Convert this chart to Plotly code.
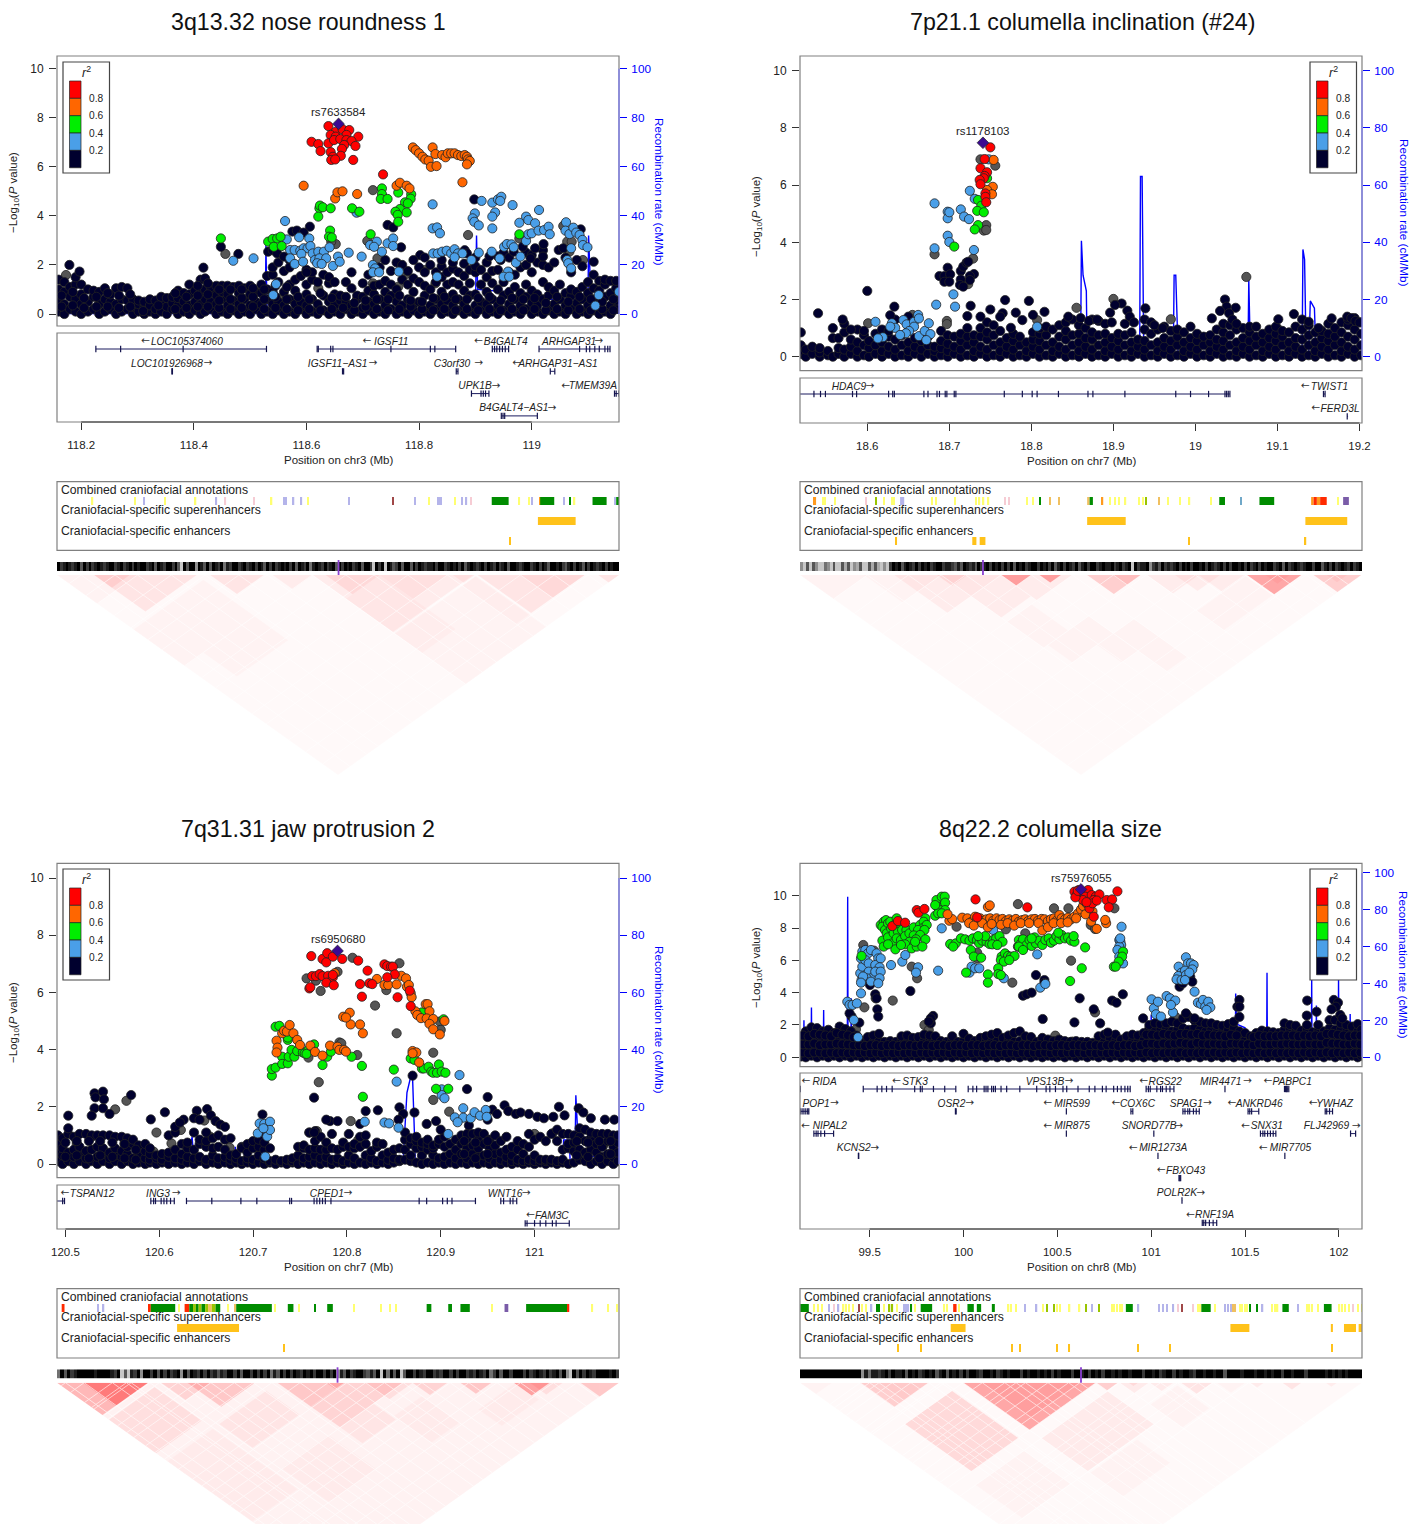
import plotly.graph_objects as go

W, H = 1412, 1524

# ---------------------------------------------------------------- titles / labels
TITLES = ["3q13.32 nose roundness 1", "7p21.1 columella inclination (#24)",
          "7q31.31 jaw protrusion 2", "8q22.2 columella size"]
CHROMS = ["chr3", "chr7", "chr7", "chr8"]
LEAD_NAMES = ["rs7633584", "rs1178103", "rs6950680", "rs75976055"]
LEAD_P1 = (118.657, 7.75)
LEAD_P2 = (18.741, 7.48)
LEAD_P3 = (120.79, 7.45)
LEAD_P4 = (100.626, 10.39)
XTICKS_P1 = [118.2, 118.4, 118.6, 118.8, 119]
XTICKS_P2 = [18.6, 18.7, 18.8, 18.9, 19, 19.1, 19.2]
XTICKS_P3 = [120.5, 120.6, 120.7, 120.8, 120.9, 121]
XTICKS_P4 = [99.5, 100, 100.5, 101, 101.5, 102]
LOGP_TICKS = [0, 2, 4, 6, 8, 10]
RATE_TICKS = [0, 20, 40, 60, 80, 100]
R2_LABELS = ["0.8", "0.6", "0.4", "0.2"]

# ---------------------------------------------------------------- panel 1 points
P1_RED = [(118.639,7.66),(118.652,7.43),(118.664,7.53),(118.676,7.5),(118.643,7.3),(118.652,7.23),(118.671,7.3),(118.692,7.23),
 (118.609,7.02),(118.621,6.93),(118.625,6.64),(118.639,6.96),(118.649,7.09),(118.66,7.13),(118.671,7.09),(118.68,7.05),(118.687,6.85),
 (118.667,6.89),(118.663,6.73),(118.643,6.6),(118.661,6.45),(118.647,6.41),(118.644,6.28),(118.651,6.3),(118.683,6.28),(118.736,5.69)]
P1_ORANGE = [(118.789,6.79),(118.794,6.68),(118.8,6.55),(118.806,6.41),(118.811,6.3),(118.817,6.25),(118.821,6.0),(118.831,6.03),(118.824,6.79),
 (118.829,6.52),(118.841,6.48),(118.847,6.39),(118.851,6.55),(118.857,6.55),(118.863,6.55),(118.869,6.48),(118.875,6.44),(118.881,6.48),
 (118.885,6.41),(118.887,6.3),(118.89,6.24),(118.885,6.1),(118.877,5.37),(118.595,5.23),(118.651,4.71),(118.655,4.96),(118.664,5.0),
 (118.69,4.89),(118.76,5.23),(118.766,5.35),(118.778,5.23),(118.783,5.12)]
P1_GREEN = [(118.448,3.08),(118.532,2.95),(118.54,3.06),(118.548,3.08),(118.554,3.15),(118.542,2.74),(118.556,2.77),(118.623,4.31),(118.621,3.97),
 (118.624,4.42),(118.629,4.35),(118.643,4.31),(118.642,3.4),(118.64,3.15),(118.645,3.12),(118.681,4.31),(118.694,4.17),(118.714,3.25),(118.734,5.12),
 (118.734,4.89),(118.732,4.69),(118.744,4.69),(118.763,4.95),(118.786,4.88),(118.785,4.7),(118.775,4.55),(118.78,4.51),(118.766,4.28),
 (118.758,4.17),(118.778,4.14),(118.762,4.04),(118.763,3.76),(118.978,3.25)]
P1_BLUE = [(118.562,3.79),(118.47,2.17),(118.506,2.27),(118.565,3.04),(118.587,3.13),(118.605,3.08),(118.571,2.61),(118.579,2.61),(118.589,2.58),
 (118.595,2.68),(118.602,2.68),(118.607,2.77),(118.591,2.45),(118.611,2.47),(118.621,2.54),(118.631,2.54),(118.641,2.72),(118.571,2.27),
 (118.579,2.04),(118.594,2.13),(118.615,2.2),(118.623,2.27),(118.635,2.27),(118.619,2.07),(118.627,2.04),(118.647,1.96),(118.656,2.34),
 (118.659,2.13),(118.675,2.5),(118.698,2.34),(118.713,2.81),(118.725,2.95),(118.72,2.74),(118.734,2.54),(118.744,2.88),(118.754,3.08),
 (118.754,2.77),(118.718,2.0),(118.722,1.86),(118.718,1.7),(118.729,1.7),(118.764,1.73),(118.689,4.13),(118.824,4.47),(118.824,3.49),
 (118.832,3.53),(118.837,3.29),(118.825,2.47),(118.833,2.47),(118.841,2.54),(118.849,2.58),(118.857,2.47),(118.863,2.64),(118.869,2.47),
 (118.877,2.47),(118.863,2.31),(118.893,2.2),(118.832,1.52),(118.911,4.61),(118.899,4.1),(118.895,3.9),(118.898,3.76),(118.906,3.61),
 (118.93,4.54),(118.94,4.67),(118.946,4.78),(118.944,4.61),(118.966,4.44),(118.935,4.14),(118.93,3.97),(118.93,3.49),(118.906,2.5),
 (118.929,2.54),(118.943,2.27),(118.951,2.74),(118.956,2.85),(118.964,2.84),(118.968,2.72),(118.978,3.72),(118.99,3.97),(118.994,3.83),
 (119.006,3.7),(119.013,4.24),(118.99,2.98),(118.994,3.25),(119.0,3.29),(119.012,3.4),(119.022,3.42),(119.03,3.56),(119.032,3.25),
 (119.061,3.74),(119.06,3.4),(119.067,3.26),(119.074,3.52),(119.079,3.32),(119.085,3.22),(119.09,3.02),(119.091,2.81),(119.099,2.72),
 (119.07,2.68),(119.063,2.2),(119.065,2.07),(119.07,1.86),(118.958,1.73),(118.95,1.52),(118.96,1.52),(118.972,2.09),(118.98,2.34),
 (119.119,0.77),(119.113,0.34),(119.155,0.91),(118.541,0.77),(118.546,1.22)]
P1_GRAY = [(118.456,2.45),(118.652,2.85),(118.644,2.95),(118.718,5.05),(118.708,2.98),(118.887,3.22),(119.056,3.59),(119.063,2.95),(119.071,2.95),
 (119.067,2.54),(118.978,3.08),(119.091,2.2),(118.726,2.27),(118.173,1.59),(118.81,1.79),(118.776,1.62),(118.718,1.25),(118.763,1.11),
 (118.621,1.05),(118.829,1.25),(118.556,0.64)]
P1_NAVY = [(118.448,2.74),(118.479,2.45),(118.417,1.89),(118.179,2.0),(118.197,1.73),(118.606,3.56),(118.575,3.36),(118.583,3.4),(118.595,3.32),
 (118.532,2.54),(118.54,2.6),(118.548,2.47),(118.56,2.34),(118.744,3.63),(118.754,3.53),(118.768,2.72),(118.898,4.67),(119.087,3.45),(119.11,2.13),
 (118.802,2.4),(118.881,2.6),(118.885,2.47),(118.968,2.54),(119.021,2.85),(119.006,2.68),(118.984,2.74),(119.048,2.61),(119.056,2.68),(119.02,2.34),
 (118.998,2.27),(118.79,2.2),(118.81,2.3),(118.84,2.2),(118.86,2.1),(118.9,2.3),(118.925,2.35),(118.945,2.2),(118.57,1.9),(118.6,1.7)]
# carpet: (position, [-log10 P values at that position])
P1_CARPET = [(118.16,(.1,.5,1.0,1.4)),(118.17,(0,.4,.9,1.3)),(118.18,(.2,.7,1.1)),(118.19,(.1,.6,1.2,1.5)),(118.2,(0,.4,.8,1.2)),(118.212,(.1,.5,1.0)),
 (118.222,(.2,.7,.95)),(118.232,(0,.4,.9)),(118.242,(.1,.6,1.05)),(118.252,(.2,.5,.8)),(118.262,(0,.4,1.05)),(118.272,(.1,.6,1.1)),
 (118.282,(.2,.55,1.05)),(118.292,(0,.3,.6)),(118.302,(.1,.4,.55)),(118.312,(0,.25,.5)),(118.322,(.1,.35,.6)),(118.332,(0,.2,.55)),(118.342,(.1,.4,.7)),
 (118.352,(0,.3,.65)),(118.362,(.2,.45,.7)),(118.372,(0,.35,.65,.95)),(118.382,(.1,.5,.85)),(118.392,(0,.35,.8,1.2)),(118.402,(.15,.5,.95)),
 (118.412,(0,.4,.85,1.4)),(118.42,(.1,.6,1.0,1.45)),(118.43,(.2,.5,.95,1.1)),(118.44,(0,.4,.75,1.15)),(118.45,(.1,.6,.9,1.15)),(118.46,(0,.35,.8,1.15)),
 (118.47,(.15,.55,1.1)),(118.48,(0,.4,.85,1.15)),(118.49,(.1,.6,1.05)),(118.5,(0,.35,.8,1.15)),(118.51,(.2,.5,.9)),(118.52,(0,.4,.85,1.2)),
 (118.53,(.1,.6,1.0,1.55)),(118.54,(0,.4,.9,1.6,1.9)),(118.55,(.15,.5,1.3,2.1)),(118.56,(0,.35,.9,1.75)),(118.57,(.1,.6,1.2,2.2)),(118.58,(0,.4,.95,1.4)),
 (118.59,(.2,.5,1.55)),(118.6,(0,.35,.8,1.2,1.8)),(118.61,(.1,.6,1.4,1.7)),(118.62,(0,.4,1.3,2.15)),(118.63,(.15,.75,1.6)),(118.64,(0,.5,1.25,1.5)),
 (118.65,(.1,.35,.8,1.3)),(118.66,(0,.55,.75)),(118.67,(.2,.45,.7,1.3)),(118.68,(0,.35,1.05,1.7)),(118.69,(.1,.6,.75)),(118.7,(0,.25,.7,1.25)),
 (118.71,(.15,.5,.95,1.6)),(118.72,(0,.4,.8,1.15)),(118.73,(.1,.6,1.2,1.9)),(118.74,(0,.35,.9,1.35,2.2)),(118.75,(.2,.75,1.2,1.75)),(118.76,(0,.5,1.0,2.1)),
 (118.77,(.1,.35,1.4,2.0)),(118.78,(0,.6,1.2,1.75)),(118.79,(.15,.4,.9,1.45)),(118.8,(0,.5,1.3,1.9)),(118.81,(.1,.75,1.15,1.7)),(118.82,(0,.35,1.0,2.0)),
 (118.83,(.2,.6,1.3,1.7)),(118.84,(0,.4,.9,1.5,1.95)),(118.85,(.1,.55,1.2,1.7)),(118.86,(0,.35,.8,1.3,1.85)),(118.87,(.15,.6,1.2,1.7)),(118.88,(0,.4,.95,1.55,2.05)),
 (118.89,(.1,.75,1.25,1.8)),(118.9,(0,.35,.8,1.7,1.95)),(118.91,(.2,.5,1.2,1.8)),(118.92,(0,.4,.9,1.5,2.1)),(118.93,(.1,.6,1.25,1.75)),(118.94,(0,.35,1.0,1.8,2.35)),
 (118.95,(.15,.75,1.3,2.5)),(118.96,(0,.4,.9,1.7,2.3)),(118.97,(.1,.6,1.1,1.6)),(118.98,(0,.35,.85,1.9)),(118.99,(.2,.7,1.2,2.0,2.5)),(119.0,(0,.45,.95,1.7,2.4)),
 (119.01,(.1,.35,.8,2.1)),(119.02,(0,.6,1.3,2.0,2.6)),(119.03,(.15,.75,1.1,1.9)),(119.04,(0,.4,.95,2.1)),(119.05,(.1,.6,1.2)),(119.06,(0,.35,.85,2.3)),
 (119.07,(.2,.75,1.0,1.7)),(119.08,(0,.45,.9,2.2)),(119.09,(.1,.6,1.1,1.95)),(119.1,(0,.35,.85,1.3)),(119.11,(.15,.6,1.05,1.6)),(119.12,(0,.4,.95,1.35)),
 (119.13,(.1,.7,1.2,1.4)),(119.14,(0,.35,.85,1.35)),(119.15,(.2,.55,1.05,1.35))]
P1_CARPET_EXTRA = [(118.165,(.3,.75)),(118.185,(.35,.9)),(118.205,(.25,.65)),(118.227,(.3,.7)),(118.247,(.3,.85)),(118.267,(.25,.75)),(118.287,(.3,.8)),(118.31,(.12,)),(118.337,(.35,)),(118.367,(.2,.85)),
 (118.387,(.25,.7)),(118.407,(.3,.75,1.15)),(118.425,(.3,.8,1.25)),(118.445,(.25,.55,1.0)),(118.465,(.2,.6,1.0)),(118.485,(.25,.65,1.0)),(118.505,(.3,.7,1.05)),(118.525,(.2,.6,1.0)),(118.545,(.25,.7,1.15)),(118.565,(.2,.6,1.1)),
 (118.585,(.15,.7)),(118.605,(.2,.6)),(118.625,(.15,.85)),(118.645,(.2,.65)),(118.665,(.25,)),(118.685,(.15,.45)),(118.705,(.3,.55)),(118.725,(.2,.6)),(118.745,(.15,.6)),(118.765,(.2,.75)),(118.785,(.3,.55)),(118.805,(.2,.5)),
 (118.825,(.15,.65)),(118.845,(.2,.7)),(118.865,(.15,.6)),(118.885,(.2,.6)),(118.905,(.15,.65)),(118.925,(.2,.7)),(118.945,(.15,.55)),(118.965,(.2,.65)),(118.985,(.15,.6)),(119.005,(.2,.65)),(119.025,(.15,.45)),(119.045,(.2,.7)),
 (119.065,(.15,.5)),(119.085,(.2,.7)),(119.105,(.15,.6)),(119.125,(.2,.5)),(119.145,(.15,.6))]

# ---------------------------------------------------------------- panel 2 points
P2_RED = [(18.75,7.32),(18.743,6.91),(18.738,6.59),(18.746,6.45),(18.743,6.32),(18.742,6.24),(18.737,6.18),(18.738,6.03),(18.744,5.71),(18.744,5.59),(18.745,5.4)]
P2_ORANGE = [(18.754,6.88),(18.753,5.94),(18.746,5.83),(18.752,5.68)]
P2_GREEN = [(18.746,6.24),(18.735,5.48),(18.739,5.28),(18.734,5.1),(18.742,5.05),(18.735,4.6),(18.731,4.45),(18.706,3.85)]
P2_BLUE = [(18.748,6.9),(18.725,5.8),(18.731,5.52),(18.682,5.36),(18.698,5.07),(18.698,4.84),(18.7,5.05),(18.714,5.15),(18.718,4.9),(18.724,4.81),
 (18.698,4.23),(18.7,4.01),(18.682,3.79),(18.73,3.73),(18.705,2.18),(18.684,1.82),(18.707,1.75),(18.807,1.05),(18.61,1.22),(18.63,1.17),(18.634,1.01),
 (18.628,1.05),(18.644,1.28),(18.648,1.13),(18.657,1.22),(18.662,1.46),(18.663,1.34),(18.657,1.05),(18.651,.9),(18.647,.82),(18.64,.76),(18.619,.68),
 (18.613,.64),(18.663,.72),(18.67,.9),(18.675,1.17),(18.677,.79),(18.672,.58)]
P2_GRAY = [(18.738,6.9),(18.756,6.68),(18.745,4.6),(18.742,4.41),(18.745,4.43),(18.682,3.58),(18.729,3.43),(19.062,2.79),(18.855,1.71),(18.9,2.02),
 (18.723,2.54),(18.601,1.17),(18.655,1.46),(18.697,1.25),(18.697,1.14),(18.97,1.31),(19.1,.99),(18.807,1.28),(18.874,.52)]
P2_NAVY = [(18.6,2.3),(18.54,1.52),(18.633,1.75),(18.688,2.82),(18.698,3.11),(18.694,2.82),(18.701,2.88),(18.694,2.62),(18.7,2.62),(18.714,3.0),(18.717,3.15),
 (18.721,3.29),(18.723,3.32),(18.73,2.89),(18.725,2.82),(18.714,2.7),(18.713,2.51),(18.717,2.45),(18.725,2.68),(18.726,1.78),(18.75,1.65),(18.768,1.98),
 (18.797,1.95),(18.816,1.57),(18.781,1.54),(18.765,1.52),(18.762,1.4),(18.722,1.42),(18.738,1.4),(18.802,1.46),(18.789,1.28),(18.775,1.01),(18.91,1.86),
 (18.902,1.81),(18.917,1.61),(18.896,1.54),(18.939,1.69),(19.036,2.0),(19.038,1.75),(19.049,1.71),(19.041,1.52),(19.02,1.34),(19.101,1.31),(19.12,1.49),
 (19.138,1.22),(19.166,1.34),(19.185,1.4),(18.57,1.3),(18.58,.95),(18.65,1.4),(18.628,1.45),(18.86,1.35),(18.845,1.4),(18.87,1.25),(18.88,1.3),(18.92,1.4),
 (18.925,1.2),(18.95,1.1),(18.96,1.0),(19.03,1.6),(19.045,1.3),(19.05,1.15),(19.15,1.0),(19.19,1.35),(19.195,1.25),(19.2,1.2)]
P2_CARPET = [(18.519,(.1,.4,.85)),(18.525,(0,.25)),(18.533,(.1,.35)),(18.542,(0,.15,.3)),(18.552,(.05,.2)),(18.558,(0,.65,1.0)),(18.565,(.1,.3,.65)),(18.572,(0,.25,.85,1.15)),
 (18.58,(.1,.35,.6)),(18.588,(0,.2,.5,.95)),(18.596,(.05,.4,.75,.9)),(18.602,(0,.3,.55)),(18.61,(.1,.4,.8)),(18.618,(0,.2,.5,.95)),(18.626,(.1,.35,.7,.9)),(18.634,(0,.25,.6,1.3)),
 (18.642,(.05,.4,.75)),(18.65,(0,.2,.5,.9)),(18.658,(.1,.35,.65)),(18.666,(0,.25,.55)),(18.674,(.1,.4,.7)),(18.682,(0,.2,.35)),(18.69,(.05,.3,.55,.9)),(18.698,(0,.2,.45,.75)),
 (18.706,(.1,.35,.7)),(18.714,(0,.25,.55,.8)),(18.722,(.05,.4,.7,1.0)),(18.73,(0,.2,.5,.75)),(18.738,(.1,.35,.7,1.0)),(18.746,(0,.25,.6,.85,1.2)),(18.754,(.05,.4,.75,1.1)),
 (18.762,(0,.2,.5,.9)),(18.77,(.1,.35,.65)),(18.778,(0,.25,.55,.8)),(18.786,(.05,.4,.7)),(18.794,(0,.2,.5)),(18.802,(.1,.35,.6,.85)),(18.81,(0,.25,.55,.8,1.0)),(18.818,(.05,.4,.75,1.05)),
 (18.826,(0,.2,.5,.95)),(18.834,(.1,.35,.7,1.1)),(18.842,(0,.25,.6,.9,1.2)),(18.85,(.05,.4,.75,1.3)),(18.858,(0,.2,.5,.8,1.1)),(18.866,(.1,.35,.65,1.0)),(18.874,(0,.25,.6,.85,1.3)),
 (18.882,(.05,.4,.75,1.25)),(18.89,(0,.2,.5,.8,1.15)),(18.898,(.1,.35,.65,1.2)),(18.906,(0,.25,.55,.8)),(18.914,(.05,.4,.75,1.15)),(18.922,(0,.2,.5,.85)),(18.93,(.1,.35,.6)),
 (18.938,(0,.25,.55,.95,1.3)),(18.946,(.05,.4,.8,1.2)),(18.954,(0,.2,.5,.95)),(18.962,(.1,.35,.65,1.05)),(18.97,(0,.25,.55,.9)),(18.978,(.05,.4,.7,.95)),(18.986,(0,.2,.5,.85)),
 (18.994,(.1,.35,.65,1.05)),(19.002,(0,.25,.55,.8)),(19.01,(.05,.4,.7)),(19.018,(0,.2,.5,.75)),(19.026,(.1,.35,.6,.95)),(19.034,(0,.25,.55,.85,1.15)),(19.042,(.05,.4,.75,1.1)),
 (19.05,(0,.2,.5,.95)),(19.058,(.1,.35,.65,1.0)),(19.066,(0,.25,.55,.85,1.05)),(19.074,(.05,.4,.7,1.05)),(19.082,(0,.2,.5,.8)),(19.09,(.1,.35,.65,.95)),(19.098,(0,.25,.55,.8,1.05)),
 (19.106,(.05,.4,.7,.9)),(19.114,(0,.2,.5,.85)),(19.122,(.1,.35,.65,1.05)),(19.13,(0,.25,.6,.95,1.3)),(19.138,(.05,.4,.75,1.1)),(19.146,(0,.2,.5,.85)),(19.154,(.1,.35,.65,.9)),
 (19.162,(0,.25,.55,.8,1.15)),(19.17,(.05,.4,.7,1.0)),(19.178,(0,.2,.5,.85,1.2)),(19.186,(.1,.35,.7,1.1,1.3)),(19.194,(0,.25,.6,.95,1.35)),(19.202,(.05,.4,.8,1.2))]
P2_CARPET_EXTRA = []

# ---------------------------------------------------------------- panel 3 points
P3_RED = [(120.762,7.27),(120.774,7.17),(120.778,7.05),(120.779,7.37),(120.785,7.25),(120.795,7.17),(120.812,7.11),(120.822,6.76),(120.84,6.98),(120.843,6.92),(120.847,6.9),(120.849,6.9),
 (120.851,6.63),(120.843,6.53),(120.763,6.57),(120.767,6.57),(120.771,6.64),(120.774,6.57),(120.78,6.58),(120.785,6.53),(120.785,6.61),(120.778,6.34),(120.76,6.14),(120.786,6.25),(120.814,6.29),
 (120.816,5.85),(120.824,6.32),(120.827,6.29),(120.854,5.83),(120.867,6.06),(120.868,5.52),(120.761,6.18)]
P3_ORANGE = [(120.787,6.67),(120.832,6.47),(120.84,6.26),(120.844,6.26),(120.853,6.28),(120.858,6.58),(120.863,6.49),(120.864,6.2),(120.866,6.26),(120.868,5.97),(120.869,5.83),(120.873,5.34),
 (120.875,5.21),(120.879,5.1),(120.884,5.59),(120.886,5.59),(120.888,5.34),(120.885,5.09),(120.892,5.07),(120.888,4.9),(120.892,4.71),(120.899,4.53),(120.904,5.0),(120.796,5.15),(120.803,5.29),
 (120.804,4.88),(120.814,4.88),(120.817,4.57),(120.799,5.12),(120.725,4.31),(120.726,4.07),(120.725,3.9),(120.731,4.57),(120.733,4.66),(120.736,4.63),(120.739,4.86),(120.743,4.57),(120.747,4.34),
 (120.75,4.16),(120.761,4.14),(120.766,3.92),(120.774,3.79),(120.782,4.14),(120.79,4.1),(120.792,3.99),(120.797,3.99),(120.799,3.93),(120.87,3.95),(120.874,3.9),(120.877,3.55),(120.87,3.87)]
P3_GREEN = [(120.72,3.09),(120.72,3.32),(120.724,3.37),(120.724,4.8),(120.728,4.83),(120.731,3.75),(120.731,3.5),(120.737,4.34),(120.737,4.42),(120.737,3.52),(120.738,3.75),(120.741,3.99),(120.744,3.75),
 (120.747,3.95),(120.753,3.9),(120.755,3.87),(120.759,3.99),(120.763,4.1),(120.765,4.18),(120.774,3.46),(120.779,3.75),(120.783,3.93),(120.805,3.75),(120.816,3.43),(120.817,2.35),(120.868,3.69),
 (120.872,3.64),(120.88,5.3),(120.88,3.34),(120.882,3.34),(120.887,3.4),(120.89,3.23),(120.892,3.19),(120.896,3.19),(120.898,3.48),(120.901,3.23),(120.905,3.19),(120.903,5.06),(120.895,2.63),(120.908,2.63),
 (120.757,3.85),(120.85,3.3)]
P3_BLUE = [(120.92,3.11),(120.853,2.88),(120.901,2.61),(120.901,2.41),(120.904,2.3),(120.924,1.95),(120.915,1.63),(120.924,1.62),(120.918,1.46),(120.932,1.6),(120.936,1.81),(120.942,1.69),(120.948,1.89),
 (120.949,1.65),(120.908,1.05),(120.819,1.48),(120.84,1.45),(120.845,1.42),(120.855,1.27),(120.707,1.42),(120.712,1.4),(120.718,1.48),(120.705,1.07),(120.715,.96),(120.718,1.19),(120.713,.26),(120.711,1.25)]
P3_GRAY = [(120.757,6.49),(120.767,6.41),(120.772,6.05),(120.79,6.72),(120.806,7.21),(120.856,7.02),(120.842,6.08),(120.83,5.54),(120.853,4.57),(120.899,4.98),(120.9,4.69),(120.792,4.25),(120.794,4.22),
 (120.811,3.81),(120.759,3.72),(120.892,3.89),(120.77,2.86),(120.892,2.24),(120.909,1.83),(120.553,1.91),(120.565,2.21),(120.597,1.1),(120.618,1.3),(120.623,1.19),(120.613,.72),(120.594,.43),(120.648,1.52),
 (120.654,.96),(120.675,.57),(120.804,1.5),(120.812,.84),(120.768,1.15),(120.512,.7),(120.563,.72),(121.0,1.05),(121.019,1.07),(121.073,.63)]
P3_NAVY = [(120.87,3.09),(120.928,2.62),(120.95,2.34),(120.765,2.32),(120.531,2.47),(120.54,2.53),(120.57,2.41),(120.532,2.33),(120.541,2.26),(120.531,1.95),(120.54,1.95),(120.528,1.69),(120.547,1.75),
 (120.503,1.69),(120.591,1.56),(120.606,1.81),(120.64,1.86),(120.651,1.92),(120.637,1.6),(120.643,1.55),(120.655,1.7),(120.66,1.5),(120.665,1.38),(120.67,1.3),(120.626,1.55),(120.622,1.45),(120.71,1.73),
 (120.76,1.1),(120.765,1.1),(120.782,1.5),(120.778,1.55),(120.79,1.5),(120.814,1.4),(120.82,1.85),(120.833,1.88),(120.856,1.98),(120.86,1.75),(120.872,1.8),(120.855,1.55),(120.885,1.4),(120.895,1.5),(120.9,1.2),
 (120.93,1.35),(120.95,1.55),(120.955,1.9),(120.96,1.75),(120.968,2.05),(120.972,1.85),(120.98,1.75),(120.985,1.8),(120.994,1.75),(121.003,1.65),(121.01,1.6),(121.02,1.65),(121.026,2.0),(121.032,1.7),(121.047,1.95),
 (121.052,1.8),(121.06,1.6),(121.075,1.55),(121.085,1.55)]
P3_CARPET = [(120.492,(.1,.4,.7,1.0)),(120.497,(0,.3,.55,.9)),(120.503,(.1,.4,1.05,1.25)),(120.509,(0,.25,.5,.95)),(120.515,(.1,.35,.6,1.05)),(120.522,(0,.2,.45,1.05)),(120.528,(.1,.5,.95,1.0)),
 (120.534,(0,.25,.6,1.0)),(120.54,(.1,.35,.55,1.0)),(120.547,(0,.2,.4,1.0)),(120.553,(.1,.3,.55,.95)),(120.56,(0,.25,.45,.95)),(120.566,(.1,.35,.6,.9)),(120.572,(0,.2,.7,.85)),(120.578,(.05,.35,.65)),
 (120.585,(0,.2,.45,.7)),(120.59,(.05,.15,.35,.55)),(120.597,(0,.2,.3)),(120.603,(.05,.15,.35)),(120.61,(0,.25,.4,1.0)),(120.617,(.05,.2,.5,1.1,1.3)),(120.624,(0,.15,.35,.7)),(120.63,(.05,.25,.55,.75)),
 (120.637,(0,.2,.5,1.1)),(120.643,(.1,.25,.7,.85)),(120.65,(0,.15,.6,.8,1.1)),(120.657,(.05,.3,.55,.9)),(120.663,(0,.2,.6,1.0)),(120.67,(.05,.25,.5,.85)),(120.676,(0,.15,.3,.9)),(120.682,(.05,.2,.35)),
 (120.688,(0,.1,.6,.55)),(120.694,(.05,.2,.4,.7)),(120.7,(0,.15,.55,.8)),(120.706,(.05,.3,.6,.85)),(120.712,(0,.2,.5,.75,1.1)),(120.718,(.05,.1,.55)),(120.724,(0,.15)),(120.73,(.05,.1)),(120.736,(0,.15)),
 (120.742,(.05,.1,.2)),(120.748,(0,.3,.6)),(120.754,(.05,.2,.55,.65)),(120.76,(0,.25,.5,1.1)),(120.766,(.05,.3,.55,.8,1.15)),(120.772,(0,.2,.5,.95)),(120.778,(.05,.25,.5,.75)),(120.784,(0,.15,.55,1.05)),
 (120.79,(.05,.2,.5)),(120.796,(0,.1,.6,.75)),(120.802,(.05,.3,.6,1.05)),(120.808,(0,.2,.55,.7)),(120.814,(.05,.6,.95)),(120.82,(0,.3,.7,1.0)),(120.826,(.05,.2,.45)),(120.832,(0,.1,.6,.75)),(120.838,(.05,.3,.7)),
 (120.844,(0,.15,.4)),(120.85,(.05,.2,.5)),(120.856,(.1,.15,.55)),(120.862,(.15,.5,.85,1.1)),(120.868,(.1,.3,.7,.9)),(120.874,(.05,.55,.8,.95)),(120.88,(0,.3,.6,.75)),(120.886,(.05,.5,.7,.85)),(120.892,(0,.3,.55,.65)),
 (120.898,(.05,.2,.7,.85)),(120.904,(0,.25,.6,.95)),(120.91,(.05,.35,.7)),(120.916,(0,.2,.5,.85)),(120.922,(.05,.35,.7,1.0)),(120.928,(0,.2,.55,.9,1.05)),(120.934,(.05,.35,.65,1.05)),(120.94,(0,.25,.55,.85,1.1)),
 (120.946,(.05,.3,.7,1.05)),(120.952,(0,.2,.55,.85)),(120.958,(.05,.35,.65,1.0)),(120.964,(0,.15,.4,.8)),(120.97,(.05,.25,.5,.95)),(120.976,(0,.1,.3,.6)),(120.982,(.05,.15,.5,.8)),(120.988,(0,.1,.35,.7)),
 (120.994,(.05,.15,.6,1.05)),(121.0,(0,.1,.3,.85)),(121.006,(.05,.15,.95)),(121.012,(0,.1,.15,.8)),(121.018,(.05,.15,1.05)),(121.024,(0,.1,.8,1.2)),(121.03,(.05,.15,.5,1.05)),(121.036,(0,.55,.7,1.05)),
 (121.042,(.05,.45,.75,1.0)),(121.048,(.15,.5,.95,1.25)),(121.054,(.1,.4,.8,1.2)),(121.06,(0,.5,.9,1.1)),(121.066,(.1,.4,.7,1.05)),(121.072,(0,.25,.6,1.05)),(121.078,(.1,.35,.8,1.05)),(121.084,(0,.25,.6,1.0)),(121.089,(.1,.4,.75,1.0))]
P3_CARPET_EXTRA = [(120.5,(.25,.75)),(120.512,(.3,.8)),(120.525,(.2,.8)),(120.537,(.3,.8)),(120.55,(.25,.75)),(120.563,(.2,.7)),(120.575,(.15,.5)),(120.925,(.35,.8)),(120.937,(.2,.75)),(120.95,(.35,.8)),(121.045,(.3,.8)),(121.057,(.25,.75)),(121.069,(.2,.8)),(121.081,(.35,.8))]

# ---------------------------------------------------------------- panel 4 points
P4_RED = [(99.621,8.12),(99.651,8.43),(99.689,8.33),(99.751,9.11),(99.76,8.95),(99.792,9.18),(100.064,9.77),(100.073,8.66),(100.34,9.28),(100.591,10.25),(100.603,10.04),(100.626,10.19),(100.664,10.35),
 (100.648,9.94),(100.683,10.04),(100.705,9.94),(100.724,10.08),(100.694,9.73),(100.763,9.73),(100.792,9.77),(100.82,10.27),(100.671,9.22),(100.694,8.7),(100.774,9.28),(100.637,9.73),(100.614,10.35),(100.687,9.53),
 (100.596,9.9),(100.609,10.3),(100.655,9.6),(100.71,9.7)]
P4_ORANGE = [(99.993,8.64),(100.021,8.6),(100.043,8.39),(100.062,8.7),(100.073,8.49),(100.089,8.6),(100.107,8.45),(100.123,8.54),(100.142,8.6),(100.158,8.45),(100.176,8.6),(100.192,8.49),(100.208,8.56),(100.226,8.43),
 (100.244,8.54),(100.26,8.45),(100.279,8.56),(100.295,8.39),(100.313,8.49),(100.329,8.54),(100.345,8.43),(100.363,8.54),(100.381,8.56),(100.397,8.45),(100.416,8.56),(100.432,8.54),(100.45,8.43),(100.466,8.54),
 (100.482,8.6),(100.495,8.45),(100.511,8.8),(100.523,8.6),(100.541,8.54),(100.557,8.64),(100.573,8.54),(100.591,8.7),(100.61,8.9),(100.626,9.15),(100.637,9.36),(100.655,9.53),(100.671,9.43),(100.687,9.03),
 (100.03,8.3),(100.055,8.15),(100.1,8.3),(100.13,8.05),(100.15,8.25),(100.2,8.2),(100.235,8.3),(100.27,8.15),(100.305,8.3),(100.35,8.3),(100.4,8.3),(100.42,7.85),(100.45,8.05),(100.48,8.3),(100.52,8.3),(100.555,8.35),
 (100.6,8.6),(100.65,8.85),(100.68,8.4),(100.76,8.3),(100.755,8.5),(100.71,7.95),(99.925,8.45),(99.94,8.55),(99.915,8.85),(100.13,9.3),(100.14,9.4)]
P4_GREEN = [(99.457,6.27),(99.559,8.19),(99.575,8.39),(99.587,8.49),(99.568,8.08),(99.582,7.88),(99.598,8.29),(99.61,8.39),(99.591,7.67),(99.568,7.22),(99.598,7.42),(99.614,7.98),(99.632,8.19),(99.644,8.6),(99.66,8.19),
 (99.628,7.67),(99.651,7.77),(99.673,7.88),(99.696,7.88),(99.621,7.05),(99.644,7.36),(99.667,7.26),(99.689,7.5),(99.712,7.67),(99.735,8.04),(99.769,8.19),(99.797,8.6),(99.788,8.39),(99.781,7.98),(99.758,7.88),(99.735,7.54),
 (99.804,8.19),(99.792,7.88),(99.769,7.57),(99.797,7.3),(99.747,7.3),(99.712,7.15),(99.689,6.99),(99.637,6.68),(99.575,6.85),(99.667,6.95),(99.724,6.74),(99.751,6.85),(99.781,6.85),(99.742,7.15),(99.598,6.99),
 (99.872,9.73),(99.856,9.73),(99.861,9.32),(99.884,9.94),(99.9,9.94),(99.902,9.57),(99.872,9.11),(99.902,9.11),(99.849,8.76),(99.865,8.91),(99.884,8.91),(99.849,9.42),(99.929,7.01),(99.959,7.05),(99.945,6.85),
 (99.986,7.36),(100.009,7.3),(100.032,7.22),(100.05,7.36),(100.071,7.26),(100.084,7.05),(100.1,7.22),(100.123,7.15),(100.139,7.01),(100.158,7.26),(100.174,7.36),(100.192,7.5),(100.208,7.15),(100.153,6.99),(100.116,7.5),(100.18,6.95),
 (100.078,7.5),(100.039,6.64),(100.055,6.23),(100.203,6.23),(100.199,6.02),(100.221,6.43),(100.237,6.27),(100.253,6.23),(100.272,6.27),(100.215,5.92),(100.244,6.02),(100.094,6.16),(100.185,5.51),(100.185,5.15),(100.199,5.09),
 (100.014,5.24),(100.13,5.13),(100.13,4.62),(100.568,4.72),(100.63,5.51),(100.648,6.8),(100.801,5.61),(100.295,7.26),(100.306,7.05),(100.317,7.3),(100.336,6.95),(100.352,7.26),(100.363,6.89),(100.379,7.42),(100.386,7.05),
 (100.404,7.22),(100.42,6.95),(100.436,7.26),(100.454,7.36),(100.466,7.09),(100.482,7.22),(100.495,7.5),(100.511,7.3),(100.523,7.57),(100.541,7.36),(100.557,7.42),(100.573,7.22),(100.591,7.15),(100.587,7.5),(100.505,7.71),
 (100.363,7.36),(100.295,6.85),(100.317,6.64),(100.85,6.54),(100.845,6.23),(100.827,5.92),(100.811,5.61)]
P4_BLUE = [(99.457,4.78),(99.45,5.2),(99.461,5.61),(99.454,6.12),(99.461,6.54),(99.477,6.64),(99.491,6.43),(99.507,6.64),(99.477,6.02),(99.495,5.81),(99.495,5.3),(99.507,4.89),(99.484,4.89),(99.465,5.0),(99.454,4.62),(99.507,4.68),
 (99.537,6.43),(99.546,6.12),(99.53,5.71),(99.559,6.12),(99.553,5.57),(99.53,5.3),(99.559,5.3),(99.553,4.89),(99.546,4.58),(99.454,3.96),(99.381,3.44),(99.393,3.24),(99.409,3.24),(99.432,3.34),(99.416,2.31),(99.438,1.24),
 (99.614,5.71),(99.674,5.92),(99.69,6.33),(99.865,5.36),(99.884,7.98),(99.758,5.57),(99.747,5.24),(100.032,5.24),(100.043,5.61),(100.062,5.51),(100.084,5.51),(100.215,4.89),(100.393,6.37),(100.409,4.31),(100.436,4.54),(100.158,7.88),
 (100.842,8.08),(100.83,7.26),(100.836,7.15),(100.84,6.95),(100.83,6.85),(100.82,6.64),(100.83,6.23),(100.85,5.81),(100.835,7.36),
 (101.002,3.59),(101.014,3.03),(101.036,3.44),(101.025,2.66),(101.052,2.52),(101.082,3.79),(101.1,3.65),(101.116,2.78),(101.128,3.51),(101.105,3.24),(101.185,6.19),(101.146,5.61),(101.196,5.81),(101.212,5.81),(101.226,5.71),(101.219,5.44),
 (101.162,5.24),(101.18,5.36),(101.144,5.03),(101.135,4.82),(101.162,4.78),(101.185,5.09),(101.203,5.24),(101.18,4.78),(101.231,4.06),(101.249,3.38),(101.265,3.3),(101.276,3.55),(101.288,3.13),(101.304,3.44),(101.315,3.09),(101.295,2.93)]
P4_GRAY = [(99.466,6.95),(99.523,6.6),(99.472,3.09),(99.532,3.65),(99.623,3.51),(99.724,5.61),(99.753,4.89),(99.963,8.08),(100.073,6.12),(100.073,6.47),(100.26,4.62),(100.29,9.48),(100.29,6.85),(100.226,7.92),(100.329,7.67),(100.482,9.22),
 (100.573,5.98),(100.559,9.22),(100.701,2.78),(100.804,9.22),(100.678,8.19),(100.701,7.94),(99.792,2.0),(99.815,1.69),(100.112,1.07),(100.489,1.34),(100.58,.97),(99.81,1.18),(99.427,1.73),(101.128,2.52)]
P4_NAVY = [(99.53,3.9),(99.537,3.65),(99.541,2.97),(99.546,2.52),(99.502,4.47),(99.717,4.1),(100.317,3.81),(100.336,3.9),(100.363,4.0),(100.386,5.09),(100.431,4.78),(100.431,4.6),(100.422,2.37),(100.619,3.65),(100.694,2.97),(100.591,2.16),
 (100.728,2.1),(100.769,1.53),(100.792,3.51),(100.815,3.38),(100.849,3.9),(100.957,2.41),(99.826,2.1),(99.838,2.56),(99.826,2.41),(99.815,2.21),(99.445,2.14),(99.404,2.52),(99.393,2.72),(101.151,4.37),(101.169,4.58),(101.208,4.99),(101.219,4.68),
 (101.47,3.55),(101.459,3.13),(101.47,3.13),(101.831,3.51),(101.829,2.58),(101.881,2.82),(101.973,3.55),(101.995,3.38),(101.984,3.13),(101.961,2.97),(102.007,2.62),(102.018,2.41),(101.185,2.72),(101.231,2.41)]
P4_CARPET = [(99.135,(.05,.5,1.1)),(99.16,(0,.55,1.05,1.6)),(99.19,(.1,.6,1.15,1.85)),(99.22,(0,.5,1.2,1.8)),(99.25,(.1,.55,1.1,1.6)),(99.28,(0,.5,1.05,1.7)),(99.31,(.1,.6,1.1,1.5)),(99.34,(0,.55,1.2,1.9)),(99.37,(.1,.5,1.05,1.75)),
 (99.4,(0,.6,1.15,1.6)),(99.43,(.1,.5,1.0,1.35)),(99.46,(0,.55,1.0)),(99.49,(.1,.45,.95,1.25)),(99.52,(0,.5,.95,1.35)),(99.55,(.1,.55,1.0,1.45)),(99.58,(0,.45,.95)),(99.61,(.1,.5,1.0)),(99.64,(0,.55,.95)),(99.67,(.1,.45,1.0,1.3)),
 (99.7,(0,.5,.95,1.35)),(99.73,(.1,.55,1.0,1.2)),(99.76,(0,.45,.95,1.25)),(99.79,(.1,.5,1.0,1.4)),(99.82,(0,.55,1.0,1.35)),(99.85,(.1,.45,.95,1.3)),(99.88,(0,.5,1.0)),(99.91,(.1,.55,.95)),(99.94,(0,.45,1.0,1.3)),(99.97,(.1,.5,.95)),
 (100.0,(0,.55,1.0,1.45)),(100.03,(.1,.45,.95,1.15)),(100.06,(0,.5,1.0)),(100.09,(.1,.55,.95,1.2)),(100.12,(0,.45,1.0,1.3)),(100.15,(.1,.5,.95,1.4)),(100.18,(0,.55,1.0,1.5)),(100.21,(.1,.45,.95,1.2)),(100.24,(0,.5,1.0,1.35)),(100.27,(.1,.55,.95,1.5)),
 (100.3,(0,.45,1.0,1.6)),(100.33,(.1,.5,.95,1.3)),(100.36,(0,.55,1.0,1.25)),(100.39,(.1,.45,.95)),(100.42,(0,.5,1.0,1.2)),(100.45,(.1,.55,.95,1.1)),(100.48,(0,.45,1.0)),(100.51,(.1,.5,.95,1.1)),(100.54,(0,.55,1.0)),(100.57,(.1,.45,.95)),
 (100.6,(0,.5,1.0)),(100.63,(.1,.55,.95)),(100.66,(0,.45,.95)),(100.69,(.1,.5,.9)),(100.72,(0,.55,.95,1.3)),(100.75,(.1,.45,.95,1.4)),(100.78,(0,.5,.95,1.2)),(100.81,(.1,.55,1.0,1.4)),(100.84,(0,.45,.95,1.1)),(100.87,(.1,.5,1.0,1.3)),
 (100.9,(0,.55,1.0,1.4)),(100.93,(.1,.45,.95,1.35)),(100.96,(0,.5,1.05,1.5)),(100.99,(.1,.6,1.2,1.8,2.0)),(101.02,(0,.5,1.1,1.6,2.1)),(101.05,(.1,.55,1.15,1.7,2.05)),(101.08,(0,.6,1.1,1.75,2.1)),(101.11,(.1,.5,1.2,1.6,2.2)),(101.14,(0,.55,1.1,1.7,2.1)),
 (101.17,(.1,.6,1.2,1.8,2.4)),(101.2,(0,.5,1.1,1.7,2.5)),(101.23,(.1,.55,1.15,1.8,2.3)),(101.26,(0,.6,1.2,1.7,2.2)),(101.29,(.1,.5,1.1,1.6,2.1)),(101.32,(0,.55,1.1,1.7,2.1)),(101.35,(.1,.6,1.15,1.6,2.0)),(101.38,(0,.5,1.05,1.6,1.95)),
 (101.41,(.1,.55,1.1,1.7,2.05)),(101.44,(0,.6,1.2,1.8,2.2)),(101.47,(.1,.5,1.1,1.6,2.5)),(101.5,(0,.55,1.05,1.5)),(101.53,(.1,.5,1.05,1.3)),(101.56,(0,.55,1.0,1.5)),(101.59,(.1,.6,1.1,1.65)),(101.62,(0,.5,1.05,1.6)),(101.65,(.1,.55,1.1,1.55)),
 (101.68,(0,.6,1.05,1.5)),(101.71,(.1,.5,1.1,1.7,2.1)),(101.74,(0,.55,1.1,1.7,2.0)),(101.77,(.1,.6,1.05,1.6,1.95)),(101.8,(0,.5,1.1,1.65)),(101.83,(.1,.55,1.05,1.7,2.0)),(101.86,(0,.6,1.1,1.55)),(101.89,(.1,.5,1.05,1.6,2.0)),(101.92,(0,.55,1.1,1.6)),
 (101.95,(.1,.6,1.2,1.8,2.3)),(101.98,(0,.5,1.1,1.7,2.3)),(102.01,(.1,.55,1.15,1.7,2.1)),(102.04,(0,.6,1.1,1.6,2.0)),(102.07,(.1,.5,1.05,1.5,1.9)),(102.1,(0,.55,1.1,1.6,2.05)),(102.12,(.1,.6,1.05,1.7))]
P4_CARPET_EXTRA = [(99.145,(.3,.8,1.35)),(99.175,(.25,.8,1.3)),(99.205,(.3,.85,1.45)),(99.235,(.3,.75,1.4)),(99.265,(.25,.8,1.35)),(99.295,(.3,.8,1.3)),(99.325,(.25,.85,1.5)),(99.355,(.3,.8,1.4)),(99.385,(.25,.8,1.35)),(99.415,(.3,.75,1.25)),
 (99.445,(.25,.75)),(99.475,(.3,.7)),(99.505,(.25,.75)),(99.535,(.3,.75)),(99.565,(.25,.7)),(99.595,(.3,.75)),(99.625,(.25,.75)),(99.655,(.3,.7)),(99.685,(.25,.75)),(99.715,(.3,.75)),(99.745,(.25,.7)),(99.775,(.3,.75)),(99.805,(.25,.75)),(99.835,(.3,.7)),
 (99.865,(.25,.75)),(99.895,(.3,.75)),(99.925,(.25,.7)),(99.955,(.3,.75)),(99.985,(.25,.75)),(100.015,(.3,.7)),(100.045,(.25,.75)),(100.075,(.3,.75)),(100.105,(.25,.7)),(100.135,(.3,.75)),(100.165,(.25,.75)),(100.195,(.3,.7)),(100.225,(.25,.75)),(100.255,(.3,.75)),
 (100.285,(.25,.7)),(100.315,(.3,.75)),(100.345,(.25,.75)),(100.375,(.3,.7)),(100.405,(.25,.75)),(100.435,(.3,.75)),(100.465,(.25,.7)),(100.495,(.3,.75)),(100.525,(.25,.75)),(100.555,(.3,.7)),(100.585,(.25,.75)),(100.615,(.3,.75)),(100.645,(.25,.7)),(100.675,(.3,.75)),
 (100.705,(.25,.75)),(100.735,(.3,.7)),(100.765,(.25,.75)),(100.795,(.3,.75)),(100.825,(.25,.7)),(100.855,(.3,.75)),(100.885,(.25,.75)),(100.915,(.3,.7)),(100.945,(.25,.75)),(100.975,(.3,.85,1.4)),(101.005,(.25,.85,1.4)),(101.035,(.3,.8,1.35)),(101.065,(.25,.85,1.45)),
 (101.095,(.3,.8,1.4)),(101.125,(.25,.85,1.35)),(101.155,(.3,.9,1.45)),(101.185,(.25,.85,1.45)),(101.215,(.3,.8,1.4)),(101.245,(.25,.9,1.45)),(101.275,(.3,.85,1.35)),(101.305,(.25,.8,1.4)),(101.335,(.3,.85,1.35)),(101.365,(.25,.8,1.35)),(101.395,(.3,.8,1.3)),(101.425,(.25,.85,1.4)),
 (101.455,(.3,.85,1.35)),(101.485,(.25,.8)),(101.515,(.3,.8)),(101.545,(.25,.75,1.25)),(101.575,(.3,.85,1.35)),(101.605,(.25,.8,1.3)),(101.635,(.3,.8,1.3)),(101.665,(.25,.85,1.3)),(101.695,(.3,.8,1.35)),(101.725,(.25,.85,1.35)),(101.755,(.3,.8,1.35)),(101.785,(.25,.8,1.3)),
 (101.815,(.3,.8,1.35)),(101.845,(.25,.85,1.3)),(101.875,(.3,.8,1.35)),(101.905,(.25,.8,1.3)),(101.935,(.3,.9,1.45)),(101.965,(.25,.85,1.45)),(101.995,(.3,.85,1.4)),(102.025,(.25,.8,1.35)),(102.055,(.3,.8,1.3)),(102.085,(.25,.85,1.35)),(102.115,(.3,.8,1.35))]

# ---------------------------------------------------------------- recombination rate (position, cM/Mb)
P1_RATE = [(118.157,.2),(118.5,.1),(118.527,.2),(118.528,28),(118.53,1),(118.62,0),(118.66,.3),(118.668,3),(118.676,.5),(118.9,.4),(118.902,32),(118.904,10),(118.96,9),(118.974,11),(118.975,6),(119.1,6),(119.101,32),(119.105,7),(119.12,.5),(119.155,.3)]
P2_RATE = [(18.518,.1),(18.68,.2),(18.686,4),(18.69,.3),(18.86,.3),(18.861,40.5),(18.863,28.5),(18.867,23),(18.868,.3),(18.932,.3),(18.933,63),(18.935,63),(18.937,.4),(18.973,.2),(18.974,28.5),(18.976,28.5),(18.979,.2),
 (19.064,.2),(19.065,27),(19.067,.2),(19.13,.2),(19.131,37.5),(19.133,34),(19.135,.3),(19.138,.3),(19.14,19.5),(19.145,17),(19.147,.2),(19.203,.1)]
P3_RATE = [(120.491,.2),(120.63,.3),(120.635,9.5),(120.637,.4),(120.68,.3),(120.681,6),(120.683,.2),(120.748,.2),(120.7485,4),(120.75,.5),(120.85,.6),(120.856,.5),(120.86,2),(120.864,25),(120.868,30.5),(120.87,30),(120.873,.3),
 (121.03,.2),(121.031,8.4),(121.037,8.4),(121.038,.3),(121.043,.3),(121.044,24),(121.047,4),(121.09,.3)]
P4_RATE = [(99.129,.3),(99.148,.3),(99.15,20),(99.152,.3),(99.188,.3),(99.19,27),(99.192,.3),(99.253,.3),(99.255,25.6),(99.257,.3),(99.381,.3),(99.383,87),(99.385,.3),(99.4,.3),(99.402,32),(99.404,.3),(100.998,.3),(101.0,23),(101.002,.3),
 (101.448,.3),(101.45,34.6),(101.455,18),(101.5,16),(101.503,.3),(101.615,.3),(101.617,45.8),(101.619,.3),(101.853,.3),(101.855,43),(101.857,.3),(101.878,.3),(101.88,28),(101.882,.3),(101.996,.3),(101.998,42),(102.0,.3),(102.058,.3),(102.06,23.5),(102.062,.3),(102.123,.3)]

# ---------------------------------------------------------------- genes: name, direction, label position, row, start, end, exons
P1_GENES = [("LOC105374060",-1,118.377,1,118.226,118.529,[118.226,118.27,118.381,118.529]),
 ("IGSF11",-1,118.74,1,118.619,118.865,[118.619,118.621,118.643,118.647,118.75,118.82,118.828,118.865]),
 ("B4GALT4",-1,118.943,1,118.93,118.959,[118.93,118.934,118.938,118.943,118.948,118.953,118.959]),
 ("ARHGAP31",1,119.077,1,119.013,119.139,[119.013,119.085,119.097,119.103,119.112,119.12,119.13,119.135,119.139]),
 ("LOC101926968",1,118.363,2,118.361,118.362,[118.361,118.362]),("IGSF11\u2212AS1",1,118.666,2,118.664,118.666,[118.664,118.666]),
 ("C3orf30",1,118.869,2,118.866,118.869,[118.866,118.869]),("ARHGAP31\u2212AS1",-1,119.036,2,119.033,119.041,[119.033,119.041]),
 ("UPK1B",1,118.91,3,118.893,118.924,[118.893,118.91,118.914,118.918,118.924]),("TMEM39A",-1,119.098,3,119.147,119.155,[119.147,119.15,119.155]),
 ("B4GALT4\u2212AS1",1,118.979,4,118.946,119.01,[118.946,118.949,118.952,119.01])]
P2_GENES = [("HDAC9",1,18.585,1,18.518,19.042,[18.535,18.543,18.549,18.582,18.587,18.626,18.631,18.633,18.669,18.674,18.685,18.688,18.695,18.697,18.706,18.708,18.767,18.789,18.801,18.807,18.833,18.869,18.875,18.914,18.976,18.994,19.016,19.036,19.038,19.04,19.042]),
 ("TWIST1",-1,19.156,1,19.156,19.158,[19.156,19.158]),("FERD3L",-1,19.169,2,19.185,19.186,[19.185])]
P3_GENES = [("TSPAN12",-1,120.522,1,120.49,120.499,[120.497,120.499]),("ING3",1,120.605,1,120.591,120.616,[120.591,120.594,120.596,120.602,120.605,120.608,120.612,120.616]),
 ("CPED1",1,120.785,1,120.629,120.937,[120.629,120.656,120.687,120.704,120.739,120.741,120.765,120.768,120.771,120.774,120.777,120.783,120.877,120.885,120.902,120.907,120.912,120.937]),
 ("WNT16",1,120.975,1,120.964,120.981,[120.964,120.967,120.974,120.977,120.981]),("FAM3C",-1,121.012,2,120.99,121.037,[120.99,120.992,121.0,121.006,121.012,121.019,121.023,121.037])]
P4_GENES = [("RIDA",-1,99.228,1,99.129,99.131,[99.13]),("STK3",-1,99.71,1,99.466,99.959,[99.466,99.54,99.565,99.59,99.62,99.74,99.77,99.78,99.84,99.9,99.959]),
 ("VPS13B",1,100.466,1,100.025,100.888,[100.025,100.05,100.07,100.11,100.12,100.13,100.15,100.16,100.17,100.2,100.23,100.3,100.39,100.44,100.46,100.49,100.53,100.55,100.61,100.67,100.7,100.74,100.76,100.8,100.82,100.84,100.86,100.875,100.888]),
 ("RGS22",-1,101.043,1,100.973,101.121,[100.973,100.985,100.995,101.03,101.05,101.06,101.08,101.1,101.121]),("MIR4471",1,101.402,1,101.393,101.394,[101.393]),("PABPC1",-1,101.719,1,101.71,101.733,[101.71,101.715,101.72,101.725,101.733]),
 ("POP1",1,99.247,2,99.13,99.176,[99.13,99.14,99.15,99.16,99.17,99.176]),("OSR2",1,99.968,2,99.957,99.961,[99.957,99.961]),("MIR599",-1,100.546,2,100.548,100.549,[100.548]),("COX6C",-1,100.895,2,100.892,100.902,[100.892,100.902]),
 ("SPAG1",1,101.219,2,101.169,101.256,[101.169,101.18,101.195,101.205,101.225,101.24,101.256]),("ANKRD46",-1,101.543,2,101.516,101.573,[101.516,101.525,101.535,101.573]),("YWHAZ",-1,101.945,2,101.927,101.966,[101.927,101.935,101.95,101.966]),
 ("NIPAL2",-1,99.256,3,99.203,99.308,[99.203,99.215,99.225,99.24,99.26,99.308]),("MIR875",-1,100.546,3,100.548,100.549,[100.548]),("SNORD77B",1,101.021,3,101.014,101.015,[101.014]),("SNX31",-1,101.584,3,101.582,101.664,[101.582,101.595,101.605,101.62,101.635,101.65,101.664]),
 ("FLJ42969",1,101.966,3,102.062,102.089,[102.062,102.089]),("KCNS2",1,99.447,4,99.44,99.442,[99.44,99.442]),("MIR1273A",-1,101.032,4,101.036,101.037,[101.036]),("MIR7705",-1,101.71,4,101.712,101.713,[101.712]),
 ("FBXO43",-1,101.151,5,101.148,101.157,[101.148,101.152,101.157]),("POLR2K",1,101.169,6,101.164,101.165,[101.164]),("RNF19A",-1,101.306,7,101.272,101.349,[101.272,101.28,101.29,101.31,101.33,101.349])]

# ---------------------------------------------------------------- annotation tracks
# state codes: Y weak (yellow), L lavender, K pink, G green, O orange, R red, B brown, U purple, T teal, A lime, N tan
P1_ANN_TICKS = [(118.219,"Y"),(118.295,"Y"),(118.311,"L"),(118.348,"Y"),(118.402,"Y"),(118.439,"L"),(118.455,"K"),(118.506,"K"),(118.537,"Y"),(118.56,"L"),(118.562,"L"),(118.576,"L"),(118.59,"L"),(118.601,"Y"),(118.674,"L"),
 (118.752,"B"),(118.792,"L"),(118.817,"Y"),(118.832,"L"),(118.835,"L"),(118.838,"L"),(118.863,"Y"),(118.875,"L"),(118.883,"L"),(118.891,"K"),(118.977,"Y"),(118.994,"Y"),(119.0,"L"),(119.013,"O"),(119.056,"L"),(119.067,"G"),(119.075,"Y"),(119.147,"L")]
P1_ANN_SPANS = [(118.929,118.959,"G"),(119.015,119.04,"G"),(119.108,119.133,"G"),(119.15,119.155,"G")]
P1_SUPER = [(119.011,119.078)]
P1_ENH = [(118.96,118.9615)]
P2_ANN_TICKS = [(18.534,"O"),(18.536,"O"),(18.546,"Y"),(18.548,"Y"),(18.56,"Y"),(18.598,"K"),(18.61,"A"),(18.62,"Y"),(18.629,"Y"),(18.632,"Y"),(18.678,"Y"),(18.683,"Y"),(18.706,"Y"),(18.732,"Y"),(18.736,"Y"),(18.741,"Y"),(18.747,"Y"),
 (18.767,"K"),(18.772,"K"),(18.794,"Y"),(18.801,"Y"),(18.81,"G"),(18.822,"N"),(18.833,"N"),(18.886,"O"),(18.895,"Y"),(18.901,"Y"),(18.906,"Y"),(18.914,"Y"),(18.93,"Y"),(18.935,"Y"),(18.939,"A"),(18.955,"N"),(18.966,"Y"),(18.98,"Y"),(18.992,"Y"),(19.018,"Y"),(19.055,"T"),(19.173,"Y")]
P2_ANN_SPANS = [(18.64,18.645,"L"),(18.868,18.871,"N"),(18.871,18.875,"G"),(19.029,19.036,"G"),(19.078,19.096,"G"),(19.141,19.144,"O"),(19.144,19.148,"R"),(19.148,19.152,"O"),(19.152,19.16,"R"),(19.18,19.187,"U")]
P2_SUPER = [(18.868,18.915),(19.134,19.185)]
P2_ENH = [(18.635,18.636),(18.728,18.733),(18.737,18.744),(18.9915,18.993),(19.1335,19.135)]
P3_ANN_TICKS = [(120.534,"L"),(120.54,"L"),(120.62,"Y"),(120.673,"Y"),(120.723,"Y"),(120.748,"Y"),(120.765,"G"),(120.807,"Y"),(120.836,"Y"),(120.845,"Y"),(120.852,"Y"),(120.954,"Y"),(121.061,"Y"),(121.078,"Y"),(121.087,"Y")]
P3_ANN_SPANS = [(120.496,120.499,"R"),(120.589,120.591,"R"),(120.591,120.617,"G"),(120.627,120.632,"R"),(120.632,120.636,"G"),(120.636,120.639,"A"),(120.639,120.642,"G"),(120.642,120.645,"A"),(120.645,120.649,"G"),(120.649,120.652,"A"),(120.652,120.656,"N"),(120.656,120.66,"A"),(120.66,120.665,"G"),
 (120.68,120.682,"N"),(120.682,120.72,"G"),(120.737,120.743,"G"),(120.779,120.785,"G"),(120.885,120.89,"G"),(120.908,120.912,"G"),(120.921,120.931,"G"),(120.968,120.972,"U"),(120.991,121.035,"G"),(121.035,121.037,"R")]
P3_SUPER = [(120.619,120.685)]
P3_ENH = [(120.732,120.733)]
P4_ANN_TICKS = [(99.199,"Y"),(99.222,"Y"),(99.244,"Y"),(99.279,"L"),(99.306,"K"),(99.331,"L"),(99.358,"Y"),(99.372,"Y"),(99.385,"Y"),(99.409,"Y"),(99.438,"B"),(99.457,"Y"),(99.477,"Y"),(99.507,"L"),(99.537,"G"),(99.545,"G"),(99.575,"Y"),(99.603,"A"),(99.618,"A"),(99.644,"Y"),(99.678,"L"),(99.69,"L"),(99.703,"L"),(99.719,"G"),(99.74,"Y"),
 (99.895,"Y"),(99.908,"Y"),(99.972,"Y"),(100.237,"Y"),(100.25,"Y"),(100.275,"Y"),(100.324,"L"),(100.386,"L"),(100.422,"Y"),(100.44,"A"),(100.477,"A"),(100.495,"Y"),(100.511,"Y"),(100.562,"Y"),(100.615,"Y"),(100.648,"A"),(100.683,"L"),(100.718,"A"),
 (100.79,"Y"),(100.8,"Y"),(100.815,"Y"),(100.83,"Y"),(100.842,"Y"),(100.929,"L"),(101.04,"L"),(101.06,"L"),(101.08,"L"),(101.115,"L"),(101.14,"K"),(101.162,"B"),(101.219,"K"),(101.249,"Y"),(101.258,"Y"),(101.335,"Y"),(101.39,"L"),(101.405,"L"),(101.42,"L"),(101.432,"N"),(101.445,"N"),(101.47,"Y"),(101.482,"Y"),(101.495,"Y"),(101.505,"Y"),
 (101.523,"G"),(101.562,"G"),(101.59,"L"),(101.64,"Y"),(101.655,"Y"),(101.67,"Y"),(101.779,"L"),(101.825,"Y"),(101.84,"Y"),(101.855,"Y"),(101.885,"Y"),(102.0,"Y"),(102.015,"Y"),(102.03,"Y"),(102.05,"Y"),(102.07,"K"),(102.1,"Y"),(102.12,"Y")]
P4_ANN_SPANS = [(99.13,99.176,"G"),(99.772,99.833,"G"),(99.945,99.963,"R"),(100.021,100.055,"G"),(100.071,100.094,"G"),(100.151,100.167,"G"),(100.865,100.902,"G"),(101.267,101.317,"G"),(101.699,101.733,"G"),(101.92,101.961,"G")]
P4_SUPER = [(99.932,100.011),(101.422,101.523),(101.957,101.968),(102.027,102.091),(102.105,102.123)]
P4_ENH = [(99.648,99.649),(99.772,99.773),(100.256,100.257),(100.297,100.298),(100.493,100.495),(100.562,100.563),(100.925,100.927),(101.096,101.097),(101.961,101.962)]

# ---------------------------------------------------------------- SNP density strips (darkness 0-9)
P1_STRIP = "9789878969797898789978978979899789698799796296994986969879587997897897986979789897969879589879789697989789699729792986796996979878897997898979689878979879789699878997897986998976897986979878979899"
P2_STRIP = "4262642254262263624362263632427989689879798978997887686987869789798979796989789979897968979879689799789889789789297889478697878979897998979878979799897978979899789697898789979968979789879789"
P3_STRIP = "5969789999989999879262879499796979789496987979786879979699797979586979798798979979794869789976869295969269979879978799797997879879579699799979789879789694296979879999897"
P4_STRIP = "9999999999999999994858878979889698978989689698979799879989789899979899898979899979989798979989899899979989789979899879989989969999899989989899799899979999989898989999"

# ---------------------------------------------------------------- LD triangles: blocks (start, end, level) and links (i0, i1, j0, j1, level), in Mb
P1_LD_BLOCKS = [(118.157,119.155,1),(118.223,118.405,3),(118.223,118.286,3),(118.157,118.3,1),(118.429,118.524,3),(118.54,118.611,2),(118.611,118.896,2),(118.634,118.73,3),(118.73,118.85,2),(118.904,119.094,3),(118.98,119.094,2),(119.118,119.155,3),(118.86,118.9,2)]
P1_LD_LINKS = [(118.157,118.405,118.429,118.611,1),(118.611,118.73,118.73,119.0,1),(118.611,118.896,118.904,119.155,1),(118.223,118.405,118.611,118.73,1),(118.85,118.9,118.904,119.094,1)]
P1_LD_GAPS = [118.3,118.42,118.53,118.61,118.9,119.1,118.72,118.85,118.98,118.2,118.26,118.36,118.48,118.67,118.78,119.04]
P2_LD_BLOCKS = [(18.518,19.203,1),(18.596,18.69,1),(18.633,18.763,2),(18.685,18.722,3),(18.69,18.763,1),(18.763,18.8,7),(18.81,18.836,7),(18.763,18.85,2),(18.868,18.933,5),(18.9,18.933,3),(18.941,19.004,2),(18.975,19.03,2),(19.004,19.061,2),(19.063,19.129,7),(19.085,19.115,2),(19.144,19.202,5),(19.16,19.185,2),(18.518,18.6,1)]
P2_LD_LINKS = [(18.69,18.763,18.763,18.836,2),(18.69,18.75,18.85,18.94,1),(18.94,19.06,19.063,19.129,1),(18.76,18.8,19.0,19.06,1),(18.8,18.85,19.0,19.13,1),(18.7,18.8,18.94,19.0,1)]
P2_LD_GAPS = [18.763,18.8,18.85,18.94,19.06,19.135,18.69,18.6,18.65,18.72,18.9,19.0,19.1,19.17]
P3_LD_BLOCKS = [(120.491,121.09,2),(120.491,120.588,6),(120.519,120.588,7),(120.602,120.654,4),(120.63,120.702,5),(120.726,120.797,5),(120.778,120.797,5),(120.797,120.859,4),(120.82,120.87,3),(120.87,120.907,4),(120.921,120.954,5),(120.978,121.016,7),(120.995,121.03,3),(121.049,121.09,5)]
P3_LD_LINKS = [(120.491,120.588,120.602,120.702,3),(120.602,120.702,120.726,120.797,2),(120.726,120.797,120.797,120.859,4),(120.726,120.797,120.859,120.907,2),(120.491,120.588,120.726,120.907,1),(120.602,120.702,120.859,120.96,1),(120.8,120.86,120.9,120.98,1),(120.9,120.98,120.98,121.03,1)]
P3_LD_GAPS = [120.52,120.55,120.565,120.59,120.6,120.62,120.655,120.7,120.72,120.75,120.78,120.8,120.82,120.86,120.88,120.91,120.96,121.02,121.045,120.5,120.57,120.64,120.68,120.84,120.93,120.985]
P4_LD_BLOCKS = [(99.129,102.123,1),(99.449,99.815,5),(99.55,99.815,1),(99.998,100.706,7),(100.1,100.62,2),(100.706,100.821,5),(100.83,100.99,2),(100.88,100.93,3),(100.99,101.118,2),(101.16,101.324,3),(101.529,101.6,2),(101.7,101.8,3),(101.93,101.99,2),(99.129,99.3,1),(101.35,101.5,1)]
P4_LD_LINKS = [(99.38,99.883,99.998,100.706,4),(99.3,99.815,100.83,101.324,1),(99.998,100.706,100.83,101.324,2),(100.83,101.118,101.16,101.5,1),(99.998,100.5,101.35,101.7,1)]
P4_LD_GAPS = [99.45,99.55,99.62,99.72,99.815,99.9,99.998,100.1,100.22,100.33,100.45,100.56,100.706,100.83,100.99,101.14,101.33,101.52,99.88,100.28,100.62,101.05,101.25,99.5]

# ---------------------------------------------------------------- styling
COLOR = dict(gray="#555555", navy="#00002e", blue="#4a9fe8", green="#00ee00", orange="#ff6600", red="#ff0000", lead="#3b0a91")
R2_COLORS = ["#ff0000", "#ff6600", "#00ee00", "#4a9fe8", "#00002e"]
STATE = dict(Y="#ffff70", L="#b4b4ea", K="#f6ccd4", G="#008c00", O="#ff9a1e", R="#ff2a00", B="#a04848", U="#7a5ca8", T="#70a8c8", A="#99c400", N="#f0c060")
ENH = "#ffc21a"
LD_ALPHA = [0, .025, .05, .08, .12, .17, .24, .33, .43, .55]
FONT = "Liberation Sans, Arial, sans-serif"

PANELS = [
 dict(x0=57, x1=619, xr=(118.157, 119.155), main=(56, 326), zero=314, ppu=24.53, rpu=2.453, gene=(333, 422), track=(481.7, 550.3), strip=(562, 571.3), ld=575, bottom=790,
      xticks=XTICKS_P1, lead=LEAD_P1, data=(P1_GRAY, P1_CARPET, P1_CARPET_EXTRA, P1_NAVY, P1_BLUE, P1_GREEN, P1_ORANGE, P1_RED), rate=P1_RATE, genes=P1_GENES,
      ticks=P1_ANN_TICKS, spans=P1_ANN_SPANS, sup=P1_SUPER, enh=P1_ENH, stripd=P1_STRIP, blocks=P1_LD_BLOCKS, links=P1_LD_LINKS, gaps=P1_LD_GAPS, legx=63, legy=62, xlab=338, ylx=14, ylc=193, rlx=660, rlc=192, tc=308, ty=22, leadxy=(338, 112.5)),
 dict(x0=800, x1=1362, xr=(18.518, 19.203), main=(56, 370.7), zero=356.7, ppu=28.6, rpu=2.86, gene=(378, 423), track=(481.7, 550.3), strip=(562, 571.3), ld=575, bottom=790,
      xticks=XTICKS_P2, lead=LEAD_P2, data=(P2_GRAY, P2_CARPET, P2_CARPET_EXTRA, P2_NAVY, P2_BLUE, P2_GREEN, P2_ORANGE, P2_RED), rate=P2_RATE, genes=P2_GENES,
      ticks=P2_ANN_TICKS, spans=P2_ANN_SPANS, sup=P2_SUPER, enh=P2_ENH, stripd=P2_STRIP, blocks=P2_LD_BLOCKS, links=P2_LD_LINKS, gaps=P2_LD_GAPS, legx=1310, legy=62, xlab=1081, ylx=757, ylc=217, rlx=1404, rlc=213, tc=1082, ty=22, leadxy=(983, 131)),
 dict(x0=57, x1=619, xr=(120.491, 121.09), main=(863.3, 1177.7), zero=1164, ppu=28.6, rpu=2.86, gene=(1185, 1229), track=(1288.7, 1358), strip=(1369.3, 1378.7), ld=1382.7, bottom=1524,
      xticks=XTICKS_P3, lead=LEAD_P3, data=(P3_GRAY, P3_CARPET, P3_CARPET_EXTRA, P3_NAVY, P3_BLUE, P3_GREEN, P3_ORANGE, P3_RED), rate=P3_RATE, genes=P3_GENES,
      ticks=P3_ANN_TICKS, spans=P3_ANN_SPANS, sup=P3_SUPER, enh=P3_ENH, stripd=P3_STRIP, blocks=P3_LD_BLOCKS, links=P3_LD_LINKS, gaps=P3_LD_GAPS, legx=63, legy=869, xlab=338, ylx=14, ylc=1023, rlx=660, rlc=1020, tc=308, ty=829, leadxy=(338, 939)),
 dict(x0=800, x1=1362, xr=(99.129, 102.123), main=(863.3, 1066.7), zero=1057.3, ppu=16.16, rpu=1.846, gene=(1073, 1229), track=(1288.7, 1358), strip=(1369.3, 1378.7), ld=1382.7, bottom=1524,
      xticks=XTICKS_P4, lead=LEAD_P4, data=(P4_GRAY, P4_CARPET, P4_CARPET_EXTRA, P4_NAVY, P4_BLUE, P4_GREEN, P4_ORANGE, P4_RED), rate=P4_RATE, genes=P4_GENES,
      ticks=P4_ANN_TICKS, spans=P4_ANN_SPANS, sup=P4_SUPER, enh=P4_ENH, stripd=P4_STRIP, blocks=P4_LD_BLOCKS, links=P4_LD_LINKS, gaps=P4_LD_GAPS, legx=1310, legy=869, xlab=1081, ylx=757, ylc=968, rlx=1404, rlc=965, tc=1050, ty=829, leadxy=(1081, 878)),
]
LD_DEPTH = 200.0
ROW_PX = 22.3


def fx(px):
    return px / W


def fy(px):
    return 1 - px / H


fig = go.Figure()
layout = {}
shapes = []
annots = []


def text(px, py, s, size=11.5, color="#222222", angle=0, anchor="center", **kw):
    annots.append(dict(x=fx(px), y=fy(py), xref="paper", yref="paper", text=s, showarrow=False, textangle=angle, xanchor=anchor, yanchor="middle",
                       font=dict(size=size, color=color, family=FONT), **kw))


def rect(x0, y0, x1, y1, line="#808080", width=1.2, fill=None):
    shapes.append(dict(type="rect", xref="paper", yref="paper", x0=fx(x0), x1=fx(x1), y0=fy(y0), y1=fy(y1), line=dict(color=line, width=width), fillcolor=fill or "rgba(0,0,0,0)"))


def blank_y(top, bottom, rng, anchor):
    return dict(domain=[fy(bottom), fy(top)], range=rng, anchor=anchor, showticklabels=False, ticks="", showgrid=False, zeroline=False, showline=False, fixedrange=True)


for p, P in enumerate(PANELS):
    xid = "x" if p == 0 else f"x{p + 1}"
    xkey = "xaxis" if p == 0 else f"xaxis{p + 1}"
    n = 6 * p
    ids = [f"y{n + k}" if n + k > 1 else "y" for k in range(1, 7)]
    keys = [f"yaxis{n + k}" if n + k > 1 else "yaxis" for k in range(1, 7)]
    yR, yP, yG, yT, yS, yL = ids
    top, bot = P["main"]
    layout[xkey] = dict(domain=[fx(P["x0"]), fx(P["x1"])], range=list(P["xr"]), anchor=yG, tickvals=P["xticks"], ticktext=[str(t) for t in P["xticks"]],
                        ticks="outside", ticklen=7, tickcolor="#333333", tickwidth=1, ticklabelstandoff=5, tickfont=dict(size=11.5, color="#222222", family=FONT),
                        showgrid=False, zeroline=False, showline=False, fixedrange=True)
    pb, pt = (P["zero"] - bot) / P["ppu"], (P["zero"] - top) / P["ppu"]
    rb, rt = (P["zero"] - bot) / P["rpu"], (P["zero"] - top) / P["rpu"]
    layout[keys[0]] = dict(domain=[fy(bot), fy(top)], range=[rb, rt], anchor=xid, side="right", tickvals=RATE_TICKS, ticks="outside", ticklen=7, tickcolor="#0000ff", tickwidth=1, ticklabelstandoff=2,
                           tickfont=dict(size=11.8, color="#0000ff", family=FONT), showgrid=False, zeroline=False, showline=False, fixedrange=True)
    layout[keys[1]] = dict(domain=[fy(bot), fy(top)], range=[pb, pt], anchor=xid, overlaying=ids[0], side="left", tickvals=LOGP_TICKS, ticks="outside", ticklen=7, tickcolor="#333333", tickwidth=1, ticklabelstandoff=3,
                           tickfont=dict(size=12, color="#222222", family=FONT), showgrid=False, zeroline=False, showline=False, fixedrange=True)
    gt, gb = P["gene"]
    g_top = -1 + 16 / ROW_PX
    layout[keys[2]] = blank_y(gt, gb, [g_top - (gb - gt) / ROW_PX, g_top], xid)
    tt, tb = P["track"]
    layout[keys[3]] = blank_y(tt, tb, [2.965 - (tb - tt) / 20, 2.965], xid)
    st, sb = P["strip"]
    layout[keys[4]] = blank_y(st, sb, [-0.5, 0.5], xid)
    layout[keys[5]] = blank_y(P["ld"], P["bottom"], [P["bottom"] - P["ld"], 0], xid)

    # recombination
    fig.add_trace(go.Scatter(x=[a for a, _ in P["rate"]], y=[b for _, b in P["rate"]], mode="lines", line=dict(color="#0000ff", width=1.4), xaxis=xid, yaxis=yR, hoverinfo="skip"))

    # association points
    gray, carpet, extra, navy, blue, green, orange, red = P["data"]
    navy_all = [(c, v) for c, vs in list(carpet) + list(extra) for v in vs] + list(navy)
    for pts, col in ((gray, COLOR["gray"]), (navy_all, COLOR["navy"]), (blue, COLOR["blue"]), (green, COLOR["green"]), (orange, COLOR["orange"]), (red, COLOR["red"])):
        fig.add_trace(go.Scatter(x=[a for a, _ in pts], y=[b for _, b in pts], mode="markers", xaxis=xid, yaxis=yP, hoverinfo="skip",
                                 marker=dict(size=9.2, color=col, line=dict(color="#222222", width=0.8))))
    fig.add_trace(go.Scatter(x=[P["lead"][0]], y=[P["lead"][1]], mode="markers", xaxis=xid, yaxis=yP, hoverinfo="skip",
                             marker=dict(size=9, symbol="diamond", color=COLOR["lead"], line=dict(color="#222222", width=0.7))))

    # genes
    span = P["xr"][1] - P["xr"][0]
    mbpp = span / (P["x1"] - P["x0"])
    lx, ly = [], []
    ex, ey = [], []
    tx, ty, tl = [], [], []
    ax, ay, al = [], [], []
    for name, d, lab, row, s, e, exons in P["genes"]:
        lx += [s, e, None]
        ly += [-row, -row, None]
        ex += list(exons)
        ey += [-row] * len(exons)
        w = 5.7 * len(name)
        tx.append(lab - d * 6 * mbpp)
        ty.append(-row + 7 / ROW_PX)
        tl.append(name)
        ax.append(lab + d * (w / 2 + 1) * mbpp)
        ay.append(-row + 7.5 / ROW_PX)
        al.append("\u2192" if d > 0 else "\u2190")
    fig.add_trace(go.Scatter(x=lx, y=ly, mode="lines", line=dict(color="#1a1a5e", width=1), xaxis=xid, yaxis=yG, hoverinfo="skip"))
    fig.add_trace(go.Scatter(x=ex, y=ey, mode="markers", marker=dict(symbol="line-ns", size=4.5, line=dict(color="#14144e", width=1.2)), xaxis=xid, yaxis=yG, hoverinfo="skip"))
    fig.add_trace(go.Scatter(x=tx, y=ty, text=tl, mode="text", textposition="middle center", cliponaxis=False, xaxis=xid, yaxis=yG, hoverinfo="skip",
                             textfont=dict(size=10.2, color="#222222", family=FONT, style="italic")))
    fig.add_trace(go.Scatter(x=ax, y=ay, text=al, mode="text", textposition="middle center", cliponaxis=False, xaxis=xid, yaxis=yG, hoverinfo="skip",
                             textfont=dict(size=10.5, color="#333333", family="DejaVu Sans")))

    # annotation tracks
    tick_w = 1.3 * mbpp
    bars = [(a, tick_w, 2, STATE[c]) for a, c in P["ticks"]] + [(a, b - a, 2, STATE[c]) for a, b, c in P["spans"]]
    bars += [(a, b - a, 1, ENH) for a, b in P["sup"]] + [(a, max(b - a, tick_w * .8), 0, ENH) for a, b in P["enh"]]
    fig.add_trace(go.Bar(base=[b[0] for b in bars], x=[b[1] for b in bars], y=[b[2] for b in bars], orientation="h", width=0.4, marker=dict(color=[b[3] for b in bars], line=dict(width=0)), xaxis=xid, yaxis=yT, hoverinfo="skip"))

    # density strip
    strip = [int(c) for c in P["stripd"]]
    step = span / len(strip)
    fig.add_trace(go.Heatmap(z=[strip], x=[P["xr"][0] + (k + .5) * step for k in range(len(strip))], y=[0], zmin=0, zmax=9, showscale=False, colorscale=[[0, "#ffffff"], [1, "#000000"]], xaxis=xid, yaxis=yS, hoverinfo="skip"))

    # LD triangle
    def ldxy(i, j):
        return (i + j) / 2, (j - i) / span * LD_DEPTH

    polys = [([(a, a), (a, b), (b, b), (a, a)], lv) for a, b, lv in P["blocks"]]
    polys += [([(i0, j0), (i0, j1), (i1, j1), (i1, j0), (i0, j0)], lv) for i0, i1, j0, j1, lv in P["links"]]
    for corners, lv in polys:
        pts = [ldxy(i, j) for i, j in corners]
        fig.add_trace(go.Scatter(x=[q[0] for q in pts], y=[q[1] for q in pts], mode="lines", fill="toself", fillcolor=f"rgba(255,0,0,{LD_ALPHA[lv]})", line=dict(width=0), xaxis=xid, yaxis=yL, hoverinfo="skip"))
    gx, gy = [], []
    for g in P["gaps"]:
        for q in (ldxy(g, P["xr"][1]), ldxy(P["xr"][0], g)):
            gx += [g, q[0], None]
            gy += [0, q[1], None]
    fig.add_trace(go.Scatter(x=gx, y=gy, mode="lines", line=dict(color="#ffffff", width=1), opacity=0.6, xaxis=xid, yaxis=yL, hoverinfo="skip"))

    # frames and rules
    rect(P["x0"], top, P["x1"], bot)
    rect(P["x0"], gt, P["x1"], gb)
    rect(P["x0"], tt, P["x1"], tb)
    shapes.append(dict(type="line", xref=xid, yref="paper", x0=P["xticks"][0], x1=P["xticks"][-1], y0=fy(gb), y1=fy(gb), line=dict(color="#333333", width=1)))
    shapes.append(dict(type="line", xref="paper", yref=yR, x0=fx(P["x1"]), x1=fx(P["x1"]), y0=0, y1=100, line=dict(color="#6a6aff", width=1)))
    shapes.append(dict(type="line", xref=xid, yref="paper", x0=P["lead"][0], x1=P["lead"][0], y0=fy(st - 2), y1=fy(P["ld"]), line=dict(color="#8a3fd1", width=1.8)))

    # r2 legend
    lx0, ly0 = P["legx"], P["legy"]
    rect(lx0, ly0, lx0 + 46.5, ly0 + 111, line="#444444", width=1.2, fill="#ffffff")
    for c, col in enumerate(R2_COLORS):
        rect(lx0 + 6.5, ly0 + 19 + c * 17.35, lx0 + 18, ly0 + 19 + (c + 1) * 17.35, line="#222222", width=0.7, fill=col)
    for c, lab in enumerate(R2_LABELS):
        text(lx0 + 33, ly0 + 19 + (c + 1) * 17.35, lab, size=10.2)
    text(lx0 + 23, ly0 + 10, "<i>r</i><sup>2</sup>", size=12.5)

    # texts
    text(P["tc"], P["ty"], TITLES[p], size=23.2, color="#111111")
    text(P["xlab"], gb + 38, f"Position on {CHROMS[p]} (Mb)", size=11.5)
    text(P["ylx"], P["ylc"], "\u2212Log<sub>10</sub>(<i>P</i> value)", size=11.5, angle=-90)
    text(P["rlx"], P["rlc"], "Recombination rate (cM/Mb)", size=11.7, color="#0000ff", angle=90)
    text(P["leadxy"][0], P["leadxy"][1], LEAD_NAMES[p], size=11.5)
    text(P["x0"] + 2, tt + 8.5, "Combined craniofacial annotations", size=12.2, anchor="left")
    text(P["x0"] + 2, tt + 28.5, "Craniofacial-specific superenhancers", size=12.2, anchor="left")
    text(P["x0"] + 2, tt + 49, "Craniofacial-specific enhancers", size=12.2, anchor="left")

fig.update_layout(width=W, height=H, margin=dict(l=0, r=0, t=0, b=0, autoexpand=False), paper_bgcolor="#ffffff", plot_bgcolor="#ffffff", showlegend=False, barmode="overlay",
                  shapes=shapes, annotations=annots, **layout)
fig.write_html("out.html", config=dict(displayModeBar=False, responsive=False),
               post_script="document.body.style.margin='0';document.body.style.overflow='hidden';")
